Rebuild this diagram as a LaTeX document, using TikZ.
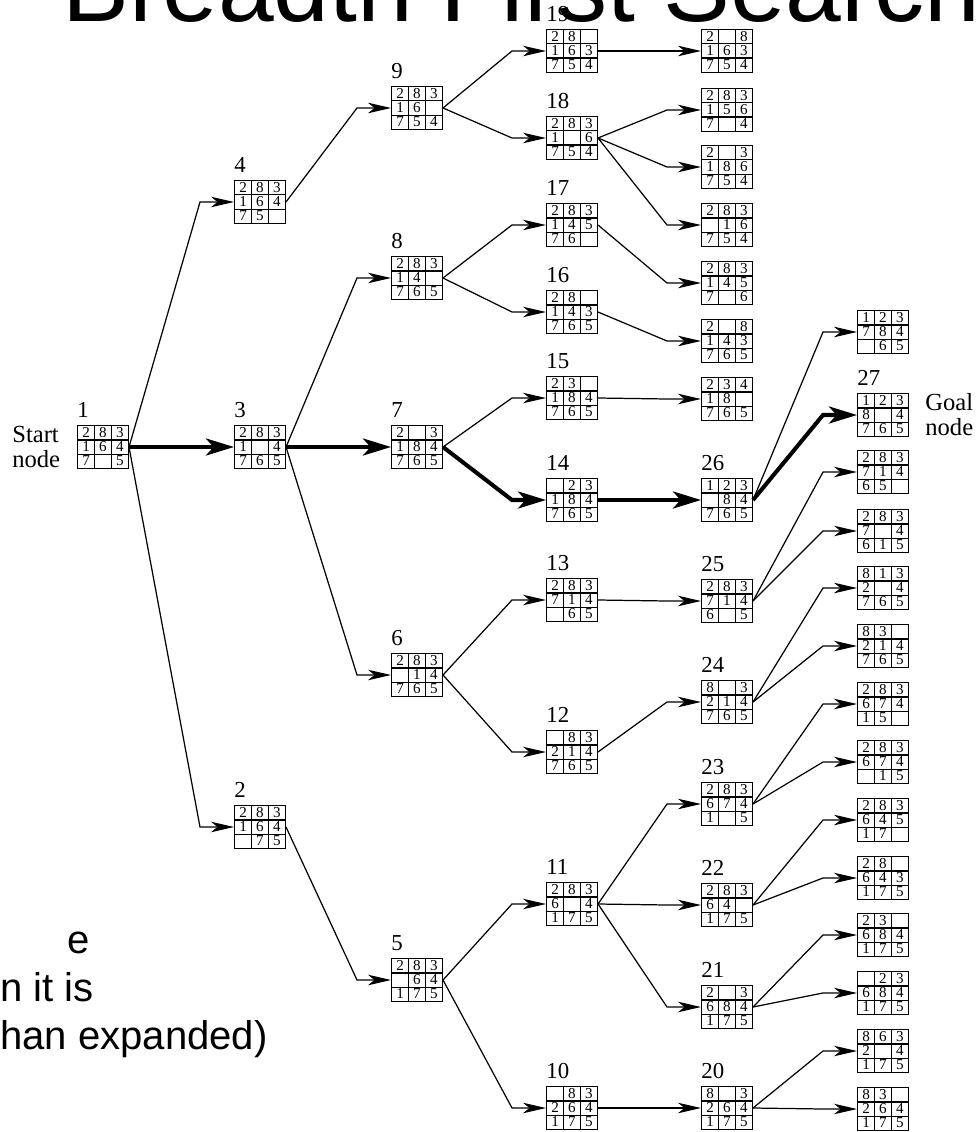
\documentclass[tikz,border=0pt]{standalone}
\usepackage{fontspec}
\setmainfont{Liberation Serif}
\newfontfamily\slidefont{Liberation Sans}
\usepackage{array}
\usetikzlibrary{arrows.meta}

% one cell of a puzzle board
\newcolumntype{C}{>{\rule[-1.0pt]{0pt}{7.4pt}}w{c}{9pt}}
\newcommand{\tiles}[9]{%
  {\setlength{\tabcolsep}{0pt}\setlength{\arrayrulewidth}{0.65pt}%
   \renewcommand{\arraystretch}{0}%
   \begin{tabular}{|C|C|C|}\hline
   #1&#2&#3\\\hline #4&#5&#6\\\hline #7&#8&#9\\\hline
   \end{tabular}}}

\tikzset{
  board/.style={inner sep=0pt, outer sep=0pt, font=\fontsize{8.6}{7.4}\selectfont},
  lbl/.style={anchor=south west, inner sep=0pt, yshift=0.14cm, font=\fontsize{13}{15}\selectfont},
  link/.style={line width=0.7pt, -{Stealth[length=4.6mm,width=2.1mm,inset=1.3mm]},
    to path={(\tikztostart.east) -- ([xshift=-0.68cm]\tikztotarget.west) -- (\tikztotarget.west)}},
  solution/.style={link, line width=2.3pt, -{Stealth[length=5.6mm,width=3.4mm,inset=1.5mm]}},
  note/.style={anchor=base west, inner sep=0pt, font=\slidefont\fontsize{22.8}{27}\selectfont}
}

\begin{document}
\begin{tikzpicture}[x=0.02cm, y=-0.02cm]
    \useasboundingbox (0,0) rectangle (979,1132);
    \clip (0,0) rectangle (979,1132);

    % slide text behind the figure
    \node[anchor=base west, inner sep=0pt, font=\slidefont\fontsize{57}{60}\selectfont] (title) at (62,22) {Breadth First Search};
    \node[note] (note1) at (67,953) {e};
    \node[note] (note2) at (0,1001) {n it is};
    \node[note] (note3) at (0,1049) {han expanded)};

    % depth 0 and 1
    \node[board, label={[lbl]north west:1}] (1) at (103,447) {\tiles{2}{8}{3}{1}{6}{4}{7}{}{5}};
    \node[anchor=west, align=left, inner sep=0pt, font=\fontsize{14}{14.2}\selectfont] (start) at (12,447) {Start\\node};

    \node[board, label={[lbl]north west:4}] (4) at (260,202) {\tiles{2}{8}{3}{1}{6}{4}{7}{5}{}};
    \node[board, label={[lbl]north west:3}] (3) at (260,447) {\tiles{2}{8}{3}{1}{}{4}{7}{6}{5}};
    \node[board, label={[lbl]north west:2}] (2) at (260,827) {\tiles{2}{8}{3}{1}{6}{4}{}{7}{5}};

    % depth 2
    \node[board, label={[lbl]north west:9}] (9) at (417,108) {\tiles{2}{8}{3}{1}{6}{}{7}{5}{4}};
    \node[board, label={[lbl]north west:8}] (8) at (417,278) {\tiles{2}{8}{3}{1}{4}{}{7}{6}{5}};
    \node[board, label={[lbl]north west:7}] (7) at (417,447) {\tiles{2}{}{3}{1}{8}{4}{7}{6}{5}};
    \node[board, label={[lbl]north west:6}] (6) at (417,675) {\tiles{2}{8}{3}{}{1}{4}{7}{6}{5}};
    \node[board, label={[lbl]north west:5}] (5) at (417,980) {\tiles{2}{8}{3}{}{6}{4}{1}{7}{5}};

    % depth 3
    \node[board, label={[lbl]north west:19}] (19) at (572,51) {\tiles{2}{8}{}{1}{6}{3}{7}{5}{4}};
    \node[board, label={[lbl]north west:18}] (18) at (572,138) {\tiles{2}{8}{3}{1}{}{6}{7}{5}{4}};
    \node[board, label={[lbl]north west:17}] (17) at (572,225) {\tiles{2}{8}{3}{1}{4}{5}{7}{6}{}};
    \node[board, label={[lbl]north west:16}] (16) at (572,312) {\tiles{2}{8}{}{1}{4}{3}{7}{6}{5}};
    \node[board, label={[lbl]north west:15}] (15) at (572,398) {\tiles{2}{3}{}{1}{8}{4}{7}{6}{5}};
    \node[board, label={[lbl]north west:14}] (14) at (572,500) {\tiles{}{2}{3}{1}{8}{4}{7}{6}{5}};
    \node[board, label={[lbl]north west:13}] (13) at (572,600) {\tiles{2}{8}{3}{7}{1}{4}{}{6}{5}};
    \node[board, label={[lbl]north west:12}] (12) at (572,752) {\tiles{}{8}{3}{2}{1}{4}{7}{6}{5}};
    \node[board, label={[lbl]north west:11}] (11) at (572,904) {\tiles{2}{8}{3}{6}{}{4}{1}{7}{5}};
    \node[board, label={[lbl]north west:10}] (10) at (572,1108) {\tiles{}{8}{3}{2}{6}{4}{1}{7}{5}};

    % depth 4
    \node[board] (19a) at (727,51) {\tiles{2}{}{8}{1}{6}{3}{7}{5}{4}};
    \node[board] (18a) at (727,110) {\tiles{2}{8}{3}{1}{5}{6}{7}{}{4}};
    \node[board] (18b) at (727,167) {\tiles{2}{}{3}{1}{8}{6}{7}{5}{4}};
    \node[board] (18c) at (727,225) {\tiles{2}{8}{3}{}{1}{6}{7}{5}{4}};
    \node[board] (17a) at (727,283) {\tiles{2}{8}{3}{1}{4}{5}{7}{}{6}};
    \node[board] (16a) at (727,341) {\tiles{2}{}{8}{1}{4}{3}{7}{6}{5}};
    \node[board] (15a) at (727,399) {\tiles{2}{3}{4}{1}{8}{}{7}{6}{5}};
    \node[board, label={[lbl]north west:26}] (26) at (727,500) {\tiles{1}{2}{3}{}{8}{4}{7}{6}{5}};
    \node[board, label={[lbl]north west:25}] (25) at (727,601) {\tiles{2}{8}{3}{7}{1}{4}{6}{}{5}};
    \node[board, label={[lbl]north west:24}] (24) at (727,702) {\tiles{8}{}{3}{2}{1}{4}{7}{6}{5}};
    \node[board, label={[lbl]north west:23}] (23) at (727,804) {\tiles{2}{8}{3}{6}{7}{4}{1}{}{5}};
    \node[board, label={[lbl]north west:22}] (22) at (727,905) {\tiles{2}{8}{3}{6}{4}{}{1}{7}{5}};
    \node[board, label={[lbl]north west:21}] (21) at (727,1007) {\tiles{2}{}{3}{6}{8}{4}{1}{7}{5}};
    \node[board, label={[lbl]north west:20}] (20) at (727,1108) {\tiles{8}{}{3}{2}{6}{4}{1}{7}{5}};

    % depth 5
    \node[board] (26a) at (883,332) {\tiles{1}{2}{3}{7}{8}{4}{}{6}{5}};
    \node[board, label={[lbl]north west:27}] (27) at (883,415) {\tiles{1}{2}{3}{8}{}{4}{7}{6}{5}};
    \node[anchor=west, align=left, inner sep=0pt, font=\fontsize{14}{14.2}\selectfont] (goal) at (925,415) {Goal\\node};
    \node[board] (25a) at (883,472) {\tiles{2}{8}{3}{7}{1}{4}{6}{5}{}};
    \node[board] (25b) at (883,531) {\tiles{2}{8}{3}{7}{}{4}{6}{1}{5}};
    \node[board] (24a) at (883,588) {\tiles{8}{1}{3}{2}{}{4}{7}{6}{5}};
    \node[board] (24b) at (883,646) {\tiles{8}{3}{}{2}{1}{4}{7}{6}{5}};
    \node[board] (23a) at (883,704) {\tiles{2}{8}{3}{6}{7}{4}{1}{5}{}};
    \node[board] (23b) at (883,762) {\tiles{2}{8}{3}{6}{7}{4}{}{1}{5}};
    \node[board] (22a) at (883,820) {\tiles{2}{8}{3}{6}{4}{5}{1}{7}{}};
    \node[board] (22b) at (883,878) {\tiles{2}{8}{}{6}{4}{3}{1}{7}{5}};
    \node[board] (21a) at (883,935) {\tiles{2}{3}{}{6}{8}{4}{1}{7}{5}};
    \node[board] (21b) at (883,993) {\tiles{}{2}{3}{6}{8}{4}{1}{7}{5}};
    \node[board] (20a) at (883,1051) {\tiles{8}{6}{3}{2}{}{4}{1}{7}{5}};
    \node[board] (20b) at (883,1109) {\tiles{8}{3}{}{2}{6}{4}{1}{7}{5}};

    % search tree, path to the goal in bold
    \draw[solution] (1) to (3);
    \draw[solution] (3) to (7);
    \draw[solution] (7) to (14);
    \draw[solution] (14) to (26);
    \draw[solution] (26) to (27);

    \draw[link] (1) to (4);
    \draw[link] (1) to (2);
    \draw[link] (4) to (9);
    \draw[link] (3) to (8);
    \draw[link] (3) to (6);
    \draw[link] (2) to (5);
    \draw[link] (9) to (19);
    \draw[link] (9) to (18);
    \draw[link] (8) to (17);
    \draw[link] (8) to (16);
    \draw[link] (7) to (15);
    \draw[link] (6) to (13);
    \draw[link] (6) to (12);
    \draw[link] (5) to (11);
    \draw[link] (5) to (10);
    \draw[link] (19) to (19a);
    \draw[link] (18) to (18a);
    \draw[link] (18) to (18b);
    \draw[link] (18) to (18c);
    \draw[link] (17) to (17a);
    \draw[link] (16) to (16a);
    \draw[link] (15) to (15a);
    \draw[link] (13) to (25);
    \draw[link] (12) to (24);
    \draw[link] (11) to (23);
    \draw[link] (11) to (22);
    \draw[link] (11) to (21);
    \draw[link] (10) to (20);
    \draw[link] (26) to (26a);
    \draw[link] (25) to (25a);
    \draw[link] (25) to (25b);
    \draw[link] (24) to (24a);
    \draw[link] (24) to (24b);
    \draw[link] (23) to (23a);
    \draw[link] (23) to (23b);
    \draw[link] (22) to (22a);
    \draw[link] (22) to (22b);
    \draw[link] (21) to (21a);
    \draw[link] (21) to (21b);
    \draw[link] (20) to (20a);
    \draw[link] (20) to (20b);
\end{tikzpicture}
\end{document}
